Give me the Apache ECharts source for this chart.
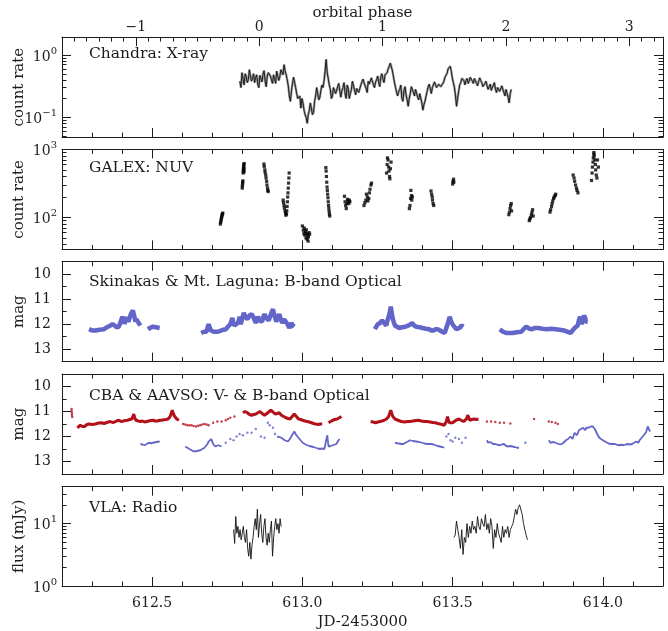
<!DOCTYPE html>
<html><head><meta charset="utf-8">
<script src="https://cdn.jsdelivr.net/npm/echarts@6/dist/echarts.min.js"></script>
<style>html,body{margin:0;padding:0;background:#fff}#c{width:668px;height:631px}</style>
</head><body><div id="c"></div>
<script>
// ---------------- DATA ----------------
const jdMajor = [612.5, 613.0, 613.5, 614.0];
const jdMinor = [612.3,612.4,612.6,612.7,612.8,612.9,613.1,613.2,613.3,613.4,613.6,613.7,613.8,613.9,614.1];
const phaseMajor = [-1, 0, 1, 2, 3];
const phaseMinor = [-1.5,-1.4,-1.3,-1.2,-1.1,-0.9,-0.8,-0.7,-0.6,-0.5,-0.4,-0.3,-0.2,-0.1,0.1,0.2,0.3,0.4,0.5,0.6,0.7,0.8,0.9,1.1,1.2,1.3,1.4,1.5,1.6,1.7,1.8,1.9,2.1,2.2,2.3,2.4,2.5,2.6,2.7,2.8,2.9,3.1,3.2];
const xrayMajor = [0.1, 1];
const xrayMinor = [0.05,0.06,0.07,0.08,0.09,0.2,0.3,0.4,0.5,0.6,0.7,0.8,0.9];
const nuvMajor = [100, 1000];
const nuvMinor = [40,50,60,70,80,90,200,300,400,500,600,700,800,900];
const magMajor = [10, 11, 12, 13];
const magMinor = [10.5, 11.5, 12.5];
const radioMajor = [1, 10];
const radioMinor = [2,3,4,5,6,7,8,9,20,30];

const panelLabels = ['Chandra: X-ray', 'GALEX: NUV', 'Skinakas & Mt. Laguna: B-band Optical', 'CBA & AAVSO: V- & B-band Optical', 'VLA: Radio'];
const yNames = ['count rate', 'count rate', 'mag', 'mag', 'flux (mJy)'];

// Chandra X-ray light curve (uniform bins)
const chandraStart = 612.792, chandraBin = 0.0035;
const chandraRate = [
0.38,0.30,0.52,0.41,0.33,0.50,0.45,0.36,0.40,0.58,0.55,0.38,0.42,0.50,0.36,0.44,0.48,0.34,0.30,0.47,
0.44,0.37,0.50,0.56,0.38,0.31,0.46,0.52,0.55,0.46,0.40,0.35,0.48,0.41,0.35,0.55,0.52,0.39,0.45,0.58,
0.62,0.48,0.70,0.56,0.48,0.40,0.32,0.22,0.18,0.26,0.35,0.44,0.42,0.30,0.24,0.20,0.19,0.22,0.14,0.20,
0.17,0.13,0.11,0.10,0.08,0.11,0.13,0.17,0.16,0.11,0.12,0.18,0.22,0.30,0.28,0.19,0.21,0.27,0.33,0.30,
0.38,0.55,0.85,0.52,0.42,0.33,0.28,0.20,0.22,0.30,0.32,0.24,0.25,0.31,0.35,0.26,0.21,0.27,0.30,0.36,
0.24,0.20,0.33,0.29,0.20,0.24,0.28,0.38,0.36,0.27,0.23,0.29,0.31,0.25,0.26,0.33,0.35,0.41,0.40,0.32,
0.29,0.25,0.38,0.34,0.33,0.43,0.42,0.33,0.30,0.37,0.40,0.46,0.36,0.31,0.45,0.50,0.41,0.36,0.48,0.45,
0.52,0.60,0.66,0.74,0.70,0.56,0.45,0.36,0.30,0.25,0.22,0.26,0.28,0.33,0.20,0.18,0.27,0.31,0.23,0.19,
0.15,0.20,0.24,0.31,0.30,0.25,0.22,0.28,0.27,0.21,0.19,0.24,0.25,0.17,0.13,0.16,0.18,0.22,0.26,0.31,
0.34,0.29,0.24,0.30,0.31,0.37,0.37,0.30,0.28,0.34,0.36,0.31,0.30,0.35,0.38,0.44,0.42,0.51,0.60,0.64,
0.66,0.55,0.42,0.36,0.30,0.22,0.15,0.20,0.26,0.33,0.36,0.42,0.45,0.39,0.33,0.39,0.42,0.35,0.38,0.44,
0.46,0.38,0.35,0.42,0.40,0.35,0.32,0.38,0.43,0.39,0.36,0.31,0.30,0.35,0.38,0.32,0.28,0.31,0.34,0.27,
0.29,0.33,0.36,0.28,0.25,0.30,0.31,0.26,0.27,0.32,0.33,0.25,0.22,0.28,0.30,0.21,0.17,0.24,0.28];

// GALEX NUV points [JD, count rate]
const galexPoints = [
[612.727,80],[612.728,85],[612.729,90],[612.730,95],[612.731,100],[612.732,105],[612.733,110],[612.734,113],[612.735,116],
[612.800,270],[612.800,290],[612.801,310],[612.801,330],[612.802,345],[612.803,450],[612.803,480],[612.804,510],[612.804,540],[612.805,570],[612.805,600],[612.806,620],[612.806,520],[612.806,470],
[612.872,610],[612.873,560],[612.875,500],[612.876,460],[612.878,420],[612.879,380],[612.881,340],[612.882,300],[612.884,270],[612.885,250],[612.886,240],
[612.936,180],[612.937,165],[612.939,150],[612.940,138],[612.942,125],[612.944,115],[612.945,108],[612.947,112],[612.948,125],[612.949,145],[612.950,170],[612.951,200],[612.952,230],[612.953,270],[612.954,320],[612.955,380],[612.956,450],
[613.000,75],[613.003,65],[613.005,58],[613.006,70],[613.008,55],[613.010,62],[613.012,50],[613.013,66],[613.014,58],[613.016,48],[613.018,55],[613.019,45],[613.020,52],[613.022,60],[613.024,57],
[613.078,540],[613.079,480],[613.080,400],[613.081,330],[613.082,280],[613.083,250],[613.084,220],[613.085,195],[613.086,170],[613.087,150],[613.088,135],[613.089,122],[613.090,112],[613.091,105],
[613.140,205],[613.142,170],[613.144,150],[613.146,135],[613.148,160],[613.150,185],[613.152,175],[613.154,160],[613.156,180],[613.158,170],
[613.205,150],[613.208,165],[613.211,180],[613.213,220],[613.216,200],[613.218,175],[613.221,190],[613.223,230],[613.225,260],[613.228,300],[613.230,320],
[613.280,450],[613.282,600],[613.283,750],[613.285,700],[613.287,550],[613.288,480],[613.290,400],[613.291,370],[613.293,520],[613.295,650],
[613.356,135],[613.358,150],[613.360,190],[613.361,250],[613.363,210],[613.364,180],[613.366,200],
[613.428,245],[613.430,220],[613.432,200],[613.433,180],[613.435,160],[613.437,150],
[613.500,310],[613.501,340],[613.503,365],[613.504,330],
[613.687,110],[613.689,120],[613.691,135],[613.693,150],[613.695,160],[613.696,125],
[613.755,90],[613.757,95],[613.759,100],[613.762,110],[613.764,120],[613.766,130],[613.768,105],
[613.824,120],[613.826,130],[613.829,145],[613.831,160],[613.833,175],[613.836,190],[613.838,200],[613.841,210],[613.843,220],
[613.901,420],[613.904,380],[613.906,340],[613.909,300],[613.912,270],[613.914,250],[613.917,230],
[613.962,350],[613.964,450],[613.965,550],[613.967,650],[613.968,750],[613.970,850],[613.971,800],[613.973,700],[613.975,600],[613.976,500],[613.978,420],[613.980,380],[613.970,900],[613.982,700],[613.985,550]
];

// Skinakas & Mt. Laguna B-band segments [JD, mag]
const skinA = [[612.290,12.2],[612.300,12.25],[612.311,12.25],[612.325,12.22],[612.340,12.2],[612.350,12.12],[612.361,12.05],[612.368,12.0],[612.375,12.05],[612.382,12.12],[612.389,12.1],[612.393,11.98],[612.397,11.95],[612.401,11.7],[612.404,11.78],[612.408,11.98],[612.411,11.95],[612.415,11.72],[612.418,11.7],[612.421,11.9],[612.425,11.85],[612.429,11.6],[612.432,11.55],[612.436,11.45],[612.439,11.4],[612.442,11.75],[612.444,11.9],[612.447,11.8],[612.449,11.8],[612.455,11.95],[612.461,12.05]];
const skinB = [[612.486,12.2],[612.493,12.15],[612.503,12.1],[612.512,12.12],[612.525,12.15]];
const skinC = [[612.663,12.35],[612.672,12.3],[612.681,12.3],[612.685,12.1],[612.688,12.0],[612.692,12.15],[612.696,12.25],[612.705,12.3],[612.717,12.3],[612.724,12.28],[612.731,12.25],[612.738,12.22],[612.745,12.2],[612.752,12.1],[612.760,12.0],[612.764,11.95],[612.767,11.75],[612.770,11.95],[612.774,12.05],[612.780,11.98],[612.785,11.95],[612.788,11.85],[612.791,11.7],[612.793,11.85],[612.795,12.0],[612.800,11.75],[612.805,11.55],[612.810,11.7],[612.817,11.8],[612.824,11.65],[612.831,11.6],[612.838,11.75],[612.845,11.95],[612.849,11.8],[612.852,11.7],[612.858,11.85],[612.866,11.9],[612.870,11.7],[612.874,11.6],[612.880,11.75],[612.888,11.85],[612.895,11.6],[612.902,11.4],[612.908,11.7],[612.913,11.9],[612.918,11.75],[612.923,11.6],[612.928,11.8],[612.933,11.95],[612.939,11.8],[612.945,11.85],[612.951,12.0],[612.956,12.15],[612.960,12.05],[612.963,11.95],[612.968,12.05],[612.973,12.1]];
const skinD = [[613.241,12.2],[613.246,12.1],[613.251,12.0],[613.258,11.95],[613.265,11.85],[613.272,11.95],[613.279,12.05],[613.283,11.85],[613.287,11.7],[613.291,11.5],[613.294,11.3],[613.298,11.6],[613.301,11.8],[613.305,11.95],[613.308,12.05],[613.315,12.1],[613.322,12.15],[613.332,12.12],[613.343,12.1],[613.354,12.05],[613.365,11.95],[613.372,12.05],[613.379,12.1],[613.390,12.12],[613.400,12.15],[613.411,12.18],[613.422,12.2],[613.429,12.25],[613.436,12.25],[613.443,12.2],[613.450,12.2],[613.458,12.25],[613.465,12.3],[613.470,12.32],[613.474,12.35],[613.479,12.15],[613.483,12.0],[613.487,11.85],[613.490,11.7],[613.494,11.85],[613.497,11.95],[613.502,12.05],[613.507,12.1],[613.512,12.2],[613.517,12.25],[613.523,12.15],[613.529,12.05],[613.536,12.1]];
const skinE = [[613.657,12.2],[613.667,12.3],[613.678,12.35],[613.689,12.35],[613.699,12.35],[613.713,12.32],[613.728,12.3],[613.736,12.2],[613.745,12.1],[613.755,12.18],[613.764,12.2],[613.775,12.15],[613.785,12.15],[613.799,12.18],[613.813,12.2],[613.828,12.18],[613.842,12.2],[613.856,12.22],[613.870,12.25],[613.881,12.3],[613.892,12.35],[613.899,12.25],[613.906,12.15],[613.911,12.1],[613.916,12.05],[613.920,11.85],[613.924,11.7],[613.927,11.85],[613.930,12.0],[613.934,11.8],[613.937,11.65],[613.941,11.75],[613.944,11.9],[613.949,11.9]];

// CBA & AAVSO V-band (red): dense runs and sparse points
const vRun1 = [[612.251,11.65],[612.261,11.55],[612.268,11.6],[612.275,11.6],[612.283,11.52],[612.290,11.5],[612.300,11.52],[612.311,11.5],[612.322,11.46],[612.332,11.45],[612.340,11.48],[612.347,11.45],[612.354,11.42],[612.361,11.4],[612.368,11.44],[612.375,11.42],[612.382,11.38],[612.389,11.35],[612.396,11.4],[612.404,11.38],[612.411,11.36],[612.418,11.35],[612.425,11.32],[612.432,11.3],[612.436,11.2],[612.439,11.1],[612.442,11.25],[612.446,11.35],[612.454,11.38],[612.461,11.4],[612.468,11.38],[612.475,11.42],[612.482,11.4],[612.489,11.38],[612.496,11.36],[612.503,11.35],[612.510,11.38],[612.518,11.38],[612.525,11.35],[612.532,11.35],[612.539,11.33],[612.546,11.32],[612.553,11.3],[612.560,11.2],[612.564,11.05],[612.567,10.95],[612.571,11.1],[612.575,11.2],[612.582,11.3],[612.589,11.35]];
const vRun2 = [[612.802,11.05],[612.809,11.0],[612.817,11.05],[612.824,11.12],[612.831,11.15],[612.838,11.12],[612.845,11.1],[612.852,11.05],[612.859,11.0],[612.866,11.08],[612.874,11.15],[612.880,11.1],[612.885,11.05],[612.890,11.0],[612.895,10.95],[612.902,11.02],[612.909,11.1],[612.916,11.08],[612.923,11.05],[612.930,11.15],[612.938,11.2],[612.945,11.25],[612.952,11.28],[612.959,11.3],[612.966,11.2],[612.973,11.1],[612.980,11.2],[612.987,11.3],[612.994,11.32],[613.001,11.35],[613.008,11.38],[613.016,11.4],[613.023,11.42],[613.030,11.45],[613.037,11.48],[613.044,11.5],[613.052,11.52],[613.059,11.5],[613.066,11.5]];
const vRun3 = [[613.087,11.45],[613.094,11.4],[613.101,11.35],[613.108,11.32],[613.116,11.3],[613.123,11.25],[613.130,11.2]];
const vRun4 = [[613.227,11.4],[613.235,11.42],[613.244,11.45],[613.251,11.42],[613.258,11.4],[613.265,11.38],[613.272,11.35],[613.280,11.3],[613.287,11.2],[613.291,11.05],[613.294,10.95],[613.298,11.1],[613.301,11.2],[613.305,11.28],[613.308,11.3],[613.318,11.35],[613.329,11.4],[613.340,11.42],[613.350,11.4],[613.358,11.4],[613.368,11.38],[613.378,11.36],[613.386,11.35],[613.396,11.38],[613.405,11.4],[613.415,11.4],[613.425,11.42],[613.434,11.44],[613.443,11.45],[613.450,11.48],[613.458,11.5],[613.465,11.52],[613.472,11.55],[613.476,11.48],[613.479,11.4],[613.483,11.2],[613.486,11.35],[613.489,11.45],[613.493,11.5],[613.500,11.45],[613.505,11.4],[613.511,11.35],[613.516,11.32],[613.521,11.3],[613.528,11.35],[613.536,11.4],[613.541,11.35],[613.546,11.3],[613.550,11.15],[613.554,11.25],[613.557,11.35],[613.564,11.32],[613.571,11.3],[613.578,11.32],[613.586,11.3]];
const vSparse = [[612.232,10.9],[612.232,10.98],[612.233,11.06],[612.233,11.14],[612.234,11.22],
[612.603,11.5],[612.610,11.52],[612.617,11.55],[612.624,11.55],[612.631,11.55],[612.638,11.58],[612.646,11.6],[612.653,11.57],[612.660,11.55],[612.667,11.52],[612.674,11.5],[612.681,11.52],[612.688,11.55],[612.703,11.45],[612.717,11.4],[612.731,11.4],[612.745,11.35],[612.752,11.3],[612.760,11.25],[612.774,11.2],
[613.614,11.4],[613.628,11.4],[613.642,11.42],[613.657,11.45],[613.671,11.45],[613.692,11.48],[613.771,11.3],[613.820,11.4],[613.830,11.42],[613.842,11.45],[613.850,11.5]];

// CBA & AAVSO B-band (blue)
const bRun1 = [[612.461,12.3],[612.468,12.32],[612.475,12.35],[612.482,12.3],[612.489,12.25],[612.496,12.27],[612.503,12.25],[612.514,12.22],[612.525,12.2]];
const bRun2 = [[612.610,12.4],[612.617,12.45],[612.624,12.5],[612.631,12.55],[612.639,12.6],[612.644,12.55],[612.649,12.58],[612.655,12.52],[612.660,12.55],[612.667,12.5],[612.674,12.45],[612.679,12.4],[612.684,12.3],[612.688,12.2],[612.692,12.15],[612.696,12.1],[612.700,12.2],[612.703,12.3],[612.710,12.4],[612.715,12.38],[612.720,12.35],[612.726,12.38],[612.731,12.4]];
const bRun3 = [[612.916,12.0],[612.923,12.02],[612.930,12.05],[612.936,12.1],[612.941,12.15],[612.947,12.18],[612.952,12.2],[612.958,12.1],[612.963,12.0],[612.968,11.9],[612.973,11.8],[612.977,11.88],[612.980,11.95],[612.984,12.0],[612.987,12.05],[612.994,12.15],[613.001,12.25],[613.008,12.3],[613.016,12.35],[613.023,12.38],[613.030,12.4],[613.037,12.42],[613.044,12.45],[613.052,12.48],[613.059,12.5],[613.066,12.48],[613.073,12.5],[613.076,12.35],[613.078,12.2],[613.081,12.05],[613.083,11.95],[613.085,12.2],[613.087,12.4],[613.094,12.38],[613.101,12.35],[613.107,12.32],[613.113,12.3],[613.118,12.2],[613.123,12.1]];
const bRun4 = [[613.308,12.25],[613.315,12.27],[613.322,12.28],[613.329,12.3],[613.336,12.3],[613.343,12.25],[613.351,12.2],[613.358,12.15],[613.368,12.18],[613.379,12.2],[613.388,12.22],[613.398,12.25],[613.406,12.28],[613.415,12.3],[613.422,12.3],[613.429,12.3],[613.436,12.32],[613.443,12.35],[613.450,12.38],[613.458,12.4],[613.465,12.42],[613.472,12.45]];
const bRun5 = [[613.614,12.15],[613.618,12.25],[613.621,12.3],[613.625,12.22],[613.628,12.25],[613.635,12.3],[613.642,12.3],[613.649,12.33],[613.657,12.35],[613.664,12.32],[613.671,12.3],[613.678,12.38],[613.685,12.4],[613.692,12.38],[613.699,12.4],[613.706,12.42],[613.714,12.45],[613.721,12.45]];
const bRun6 = [[613.820,12.15],[613.825,12.25],[613.830,12.3],[613.836,12.22],[613.842,12.2],[613.848,12.28],[613.853,12.3],[613.858,12.32],[613.863,12.35],[613.866,12.28],[613.870,12.2],[613.877,12.15],[613.884,12.1],[613.888,12.05],[613.892,12.0],[613.896,12.05],[613.899,12.1],[613.903,11.95],[613.906,11.85],[613.910,11.9],[613.913,11.95],[613.917,11.85],[613.920,11.75],[613.924,11.72],[613.927,11.7],[613.931,11.68],[613.934,11.65],[613.938,11.72],[613.941,11.75],[613.945,11.65],[613.949,11.6],[613.952,11.65],[613.956,11.7],[613.960,11.6],[613.963,11.55],[613.967,11.6],[613.970,11.65],[613.974,11.72],[613.977,11.8],[613.981,11.9],[613.984,11.95],[613.988,12.05],[613.991,12.1],[613.996,12.12],[614.001,12.15],[614.007,12.2],[614.012,12.25],[614.019,12.28],[614.026,12.3],[614.033,12.3],[614.040,12.3],[614.047,12.33],[614.054,12.35],[614.061,12.33],[614.069,12.35],[614.076,12.32],[614.083,12.3],[614.090,12.32],[614.097,12.3],[614.104,12.25],[614.111,12.2],[614.115,12.22],[614.118,12.25],[614.122,12.15],[614.125,12.1],[614.129,12.05],[614.132,12.0],[614.136,11.95],[614.140,11.9],[614.144,11.82],[614.147,11.75],[614.149,11.6],[614.151,11.55],[614.154,11.6],[614.157,11.8]];
const bSparse = [[612.745,12.25],[612.760,12.1],[612.771,12.15],[612.781,12.0],[612.791,11.9],[612.802,11.95],[612.817,11.85],[612.831,11.85],[612.845,11.7],[612.862,12.0],[612.874,12.05],[612.885,11.45],[612.891,11.55],[612.902,11.65],[612.909,11.9],
[613.479,12.0],[613.486,11.9],[613.493,12.15],[613.500,12.2],[613.509,12.05],[613.521,12.1],[613.531,12.25],[613.543,12.05],[613.742,12.25]];

// VLA radio light curves (uniform samples) [mJy]
const vla1Start = 612.771, vla1Step = 0.0036;
const vla1Flux = [8,4.8,13,7,9,6,8,5.5,7,9,6,5,8,4,3,5,2.7,4.5,6,9,12,8,17,6,10,14,7,5,9,12,6,4.5,7,5,8,11,3,6,9,12,8,10,7,12,9];
const vla2Start = 613.504, vla2Step = 0.004375;
const vla2Flux = [6,6.5,11,8,6,4,8,3.2,6,5,10,6,9,7,11,8,9,7,13,9,8,12,10,9,14,8,10,7,12,9,4,8,6,10,7,6,5,9,6,8,7,9,6,8,9,10,13,17,14,18,20,19,14,10,8,6.5,5.5];

// ---------------- CHART ----------------
const font = 'DejaVu Serif';
const ink = '#1c1c1c';
const red = '#b3101a';
const blue = '#6366c9';
const panelTops = [37.1, 149.4, 261.7, 374, 486.7];
const supMap = {'-1':'\u22121','0':'0','1':'1','2':'2','3':'3'};
const logFmt = v => '{b|10}{s|' + supMap[String(Math.round(Math.log10(v)))] + '}';
const magFmt = v => String(v);
const richSup = {b:{fontFamily:font, fontSize:14, color:ink, lineHeight:18, verticalAlign:'bottom'},
                 s:{fontFamily:font, fontSize:10, color:ink, lineHeight:18, verticalAlign:'top', padding:[0,0,7,0]}};
const panels = [
  {type:'log', min:0.048, max:1.94, major:xrayMajor, minor:xrayMinor, fmt:logFmt, margin:5},
  {type:'log', min:34, max:1000, major:nuvMajor, minor:nuvMinor, fmt:logFmt, margin:5},
  {type:'value', min:9.5, max:13.5, inverse:true, major:magMajor, minor:magMinor, fmt:magFmt, margin:11},
  {type:'value', min:9.5, max:13.5, inverse:true, major:magMajor, minor:magMinor, fmt:magFmt, margin:11},
  {type:'log', min:1, max:39, major:radioMajor, minor:radioMinor, fmt:logFmt, margin:5}
];
const grid = panelTops.map(t => ({left:62, width:601, top:t, height:100}));
const xAxis = [], yAxis = [];
const push = (list, o) => { list.push(Object.assign({splitLine:{show:false}, axisPointer:{show:false}, nameMoveOverlap:false}, o)); return list.length - 1; };
const txt = {fontFamily:font, color:ink};
const xIdx = [], yIdx = [];

panels.forEach((p, g) => {
  const last = g === panels.length - 1;
  xIdx[g] = push(xAxis, {gridIndex:g, type:'value', position:'bottom', min:612.2, max:614.2,
    axisLine:{show:true, onZero:false, lineStyle:{color:ink, width:1}},
    axisTick:{show:true, inside:true, length:9, customValues:jdMajor, lineStyle:{color:ink, width:1}},
    axisLabel:{show:last, customValues:jdMajor, formatter:v => v.toFixed(1), margin:10, fontSize:14, ...txt},
    name: last ? 'JD-2453000' : '', nameLocation:'middle', nameGap:29, nameTextStyle:{fontSize:15, ...txt}});
  push(xAxis, {gridIndex:g, type:'value', position:'bottom', min:612.2, max:614.2,
    axisLine:{show:false, onZero:false},
    axisTick:{show:true, inside:true, length:4.5, customValues:jdMinor, lineStyle:{color:ink, width:1}},
    axisLabel:{show:false}});
  if (g === 0) {
    push(xAxis, {gridIndex:g, type:'value', position:'top', min:-1.598, max:3.274,
      axisLine:{show:true, onZero:false, lineStyle:{color:ink, width:1}},
      axisTick:{show:true, inside:true, length:9, customValues:phaseMajor, lineStyle:{color:ink, width:1}},
      axisLabel:{show:true, customValues:phaseMajor, formatter:v => v < 0 ? '\u2212' + Math.abs(v) : String(v), margin:3, fontSize:14, ...txt},
      name:'orbital phase', nameLocation:'middle', nameGap:16, nameTextStyle:{fontSize:15, ...txt}});
    push(xAxis, {gridIndex:g, type:'value', position:'top', min:-1.598, max:3.274,
      axisLine:{show:false, onZero:false},
      axisTick:{show:true, inside:true, length:4.5, customValues:phaseMinor, lineStyle:{color:ink, width:1}},
      axisLabel:{show:false}});
  } else {
    push(xAxis, {gridIndex:g, type:'value', position:'top', min:612.2, max:614.2,
      axisLine:{show:true, onZero:false, lineStyle:{color:ink, width:1}},
      axisTick:{show:true, inside:true, length:9, customValues:jdMajor, lineStyle:{color:ink, width:1}},
      axisLabel:{show:false}});
    push(xAxis, {gridIndex:g, type:'value', position:'top', min:612.2, max:614.2,
      axisLine:{show:false, onZero:false},
      axisTick:{show:true, inside:true, length:4.5, customValues:jdMinor, lineStyle:{color:ink, width:1}},
      axisLabel:{show:false}});
  }
  ['left', 'right'].forEach(side => {
    const base = {gridIndex:g, type:p.type, min:p.min, max:p.max, inverse:!!p.inverse, position:side};
    const idx = push(yAxis, Object.assign({}, base, {
      axisLine:{show:true, onZero:false, lineStyle:{color:ink, width:1}},
      axisTick:{show:true, inside:true, length:9, customValues:p.major, lineStyle:{color:ink, width:1}},
      axisLabel:{show:side === 'left', customValues:p.major, formatter:p.fmt, margin:p.margin, fontSize:14, rich:richSup, ...txt},
      name: side === 'left' ? yNames[g] : '', nameLocation:'middle', nameRotate:90, nameGap:35,
      nameTextStyle:{fontSize:15, ...txt}}));
    if (side === 'left') yIdx[g] = idx;
    push(yAxis, Object.assign({}, base, {
      axisLine:{show:false, onZero:false},
      axisTick:{show:true, inside:true, length:4.5, customValues:p.minor, lineStyle:{color:ink, width:1}},
      axisLabel:{show:false}}));
  });
});

const series = [];
const line = (g, data, color, width) => series.push({type:'line', xAxisIndex:xIdx[g], yAxisIndex:yIdx[g], data, showSymbol:false, symbol:'none', lineStyle:{color, width}, silent:true});
const dots = (g, data, color, size, symbol) => series.push({type:'scatter', xAxisIndex:xIdx[g], yAxisIndex:yIdx[g], data, symbol:symbol || 'circle', symbolSize:size, itemStyle:{color}, silent:true});

const chandraData = chandraRate.map((v, i) => [chandraStart + i * chandraBin, v]);
line(0, chandraData, '#9a9a9a', 2.4);
line(0, chandraData, '#111', 0.9);
dots(1, galexPoints, '#000', 3.2, 'rect');
[skinA, skinB, skinC, skinD, skinE].forEach(s => line(2, s, blue, 4.5));
[bRun1, bRun2, bRun3, bRun4, bRun5, bRun6].forEach(s => line(3, s, blue, 1.8));
dots(3, bSparse, blue, 2.4);
[vRun1, vRun2, vRun3, vRun4].forEach(s => line(3, s, red, 3));
dots(3, vSparse, red, 2.4);
line(4, vla1Flux.map((v, i) => [vla1Start + i * vla1Step, v]), '#111', 0.9);
line(4, vla2Flux.map((v, i) => [vla2Start + i * vla2Step, v]), '#111', 0.9);

const labelCenters = [54, 168, 282, 396, 508];
const graphic = panelLabels.map((t, i) => ({type:'text', x:89, y:labelCenters[i],
  style:{text:t, fontFamily:font, fontSize:15.5, fill:ink, verticalAlign:'middle'}, silent:true}));

const chart = echarts.init(document.getElementById('c'), null, {renderer:'canvas'});
chart.setOption({animation:false, backgroundColor:'#fff', grid, xAxis, yAxis, series, graphic});
</script></body></html>
